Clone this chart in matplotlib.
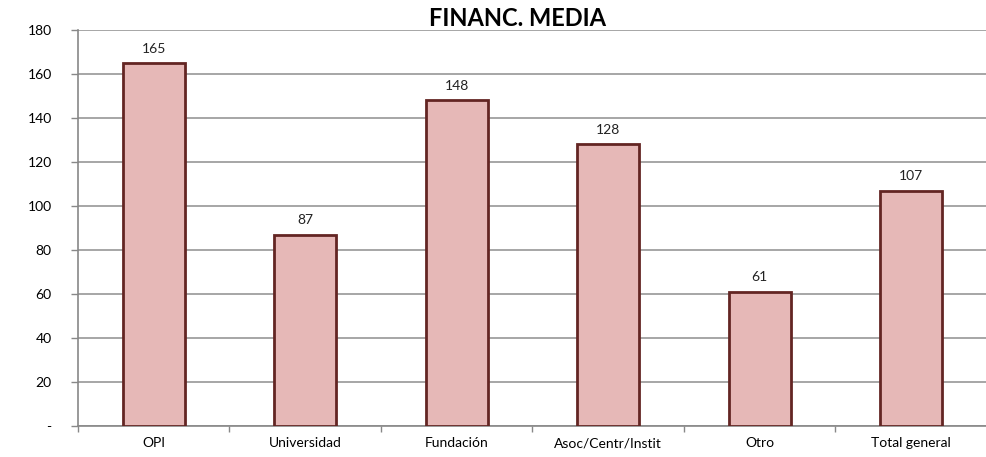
import matplotlib.pyplot as plt
import numpy as np

# Datos
categorias = ["OPI", "Universidad", "Fundación", "Asoc/Centr/Instit", "Otro", "Total general"]
valores = [165, 87, 148, 128, 61, 107]

plt.rcParams['font.family'] = ['Lato', 'DejaVu Sans']

fig = plt.figure(figsize=(9.87, 4.57), dpi=100)
ax = fig.add_axes([78 / 987, 31 / 457, 909 / 987, 396 / 457])

x = np.arange(len(categorias))
ax.bar(x, valores, width=0.41, color="#E6B8B7", edgecolor="#632523", linewidth=2, zorder=3)

for xi, v in zip(x, valores):
    ax.annotate(str(v), (xi, v), xytext=(0, 6), textcoords="offset points",
                ha="center", va="bottom", fontsize=10, color="#222222")

ax.set_xlim(-0.5, len(categorias) - 0.5)
ax.set_ylim(0, 180)
ax.set_yticks(np.arange(0, 181, 20))
ax.set_yticklabels(["-"] + [str(v) for v in range(20, 181, 20)], fontsize=10)
ax.set_xticks(x)
ax.set_xticklabels(categorias, fontsize=10)
ax.tick_params(axis="x", length=0, pad=8)
ax.set_xticks(np.arange(-0.5, len(categorias), 1), minor=True)
ax.tick_params(axis="x", which="minor", length=4, color="#888888", width=1)
ax.tick_params(axis="y", length=5, color="#888888", width=1, pad=14)

ax.grid(axis="y", color="#A6A6A6", linewidth=1.4, zorder=0)
for s in ["top", "right"]:
    ax.spines[s].set_visible(False)
ax.spines["left"].set_color("#888888")
ax.spines["bottom"].set_color("#888888")
ax.spines["left"].set_linewidth(1.2)
ax.spines["bottom"].set_linewidth(1.2)

fig.text(518 / 987, 1 - 19 / 457, "FINANC. MEDIA", ha="center", va="center",
         fontsize=17, fontweight="bold")

fig.savefig("out.png", dpi=100)
